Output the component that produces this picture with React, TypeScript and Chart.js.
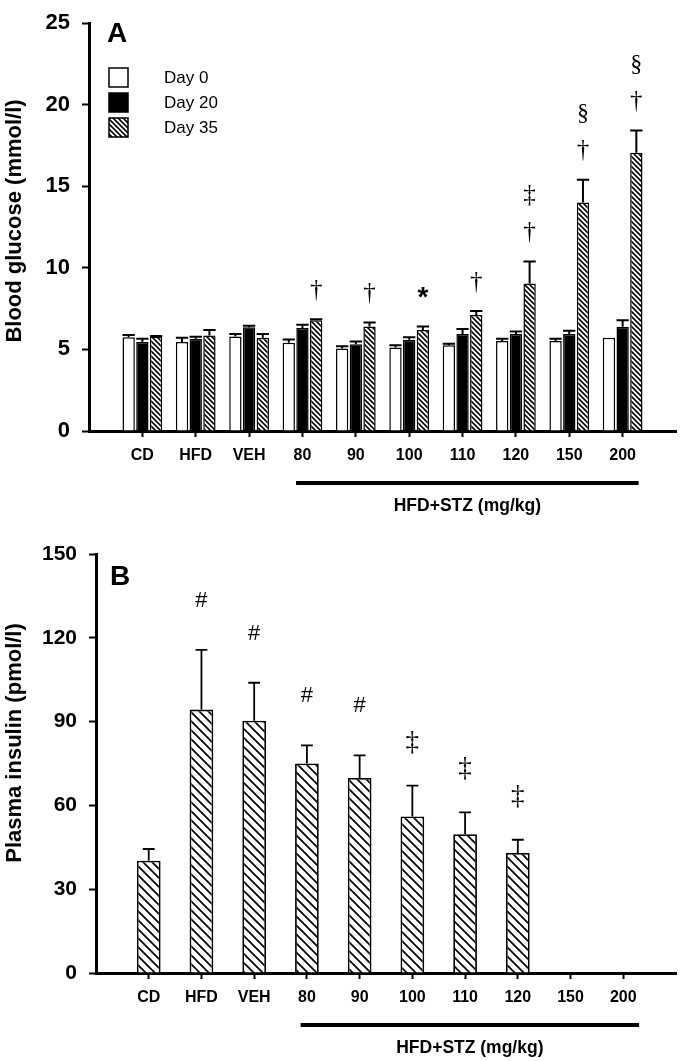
import React, { useEffect, useRef } from 'react';
import { Chart, registerables } from 'chart.js';
Chart.register(...registerables);

const categories = ['CD', 'HFD', 'VEH', '80', '90', '100', '110', '120', '150', '200'];
const seriesNames = ['Day 0', 'Day 20', 'Day 35'];

const glucoseDay0 = [5.75, 5.45, 5.79, 5.40, 5.05, 5.11, 5.25, 5.51, 5.51, 5.71];
const glucoseDay0Err = [0.14, 0.26, 0.16, 0.21, 0.14, 0.14, 0.10, 0.14, 0.14, 0];
const glucoseDay20 = [5.45, 5.65, 6.35, 6.31, 5.31, 5.59, 5.95, 5.95, 5.95, 6.39];
const glucoseDay20Err = [0.20, 0.13, 0.10, 0.20, 0.18, 0.16, 0.30, 0.14, 0.20, 0.40];
const glucoseDay35 = [5.79, 5.85, 5.71, 6.79, 6.41, 6.19, 7.11, 9.04, 14.0, 17.05];
const glucoseDay35Err = [0.03, 0.34, 0.24, 0.06, 0.24, 0.22, 0.24, 1.34, 1.40, 1.37];
const glucoseMarks = [[], [], [], ['†'], ['†'], ['*'], ['†'], ['†', '‡'], ['†', '§'], ['†', '§']];

const insulinMean = [40.2, 94.3, 90.3, 75.0, 69.8, 56.0, 49.7, 43.0, null, null];
const insulinErr = [4.2, 21.4, 13.6, 6.5, 8.1, 11.1, 7.8, 4.7, null, null];
const insulinMarks = [[], ['#'], ['#'], ['#'], ['#'], ['‡'], ['‡'], ['‡'], [], []];

const glucoseTicks = { min: 0, max: 25, step: 5 };
const insulinTicks = { min: 0, max: 150, step: 30 };

const SANS = '"Liberation Sans", Arial, sans-serif';
const SERIF = '"Liberation Serif", "Times New Roman", serif';

Chart.defaults.font.family = SANS;

function pad<T>(arr: T[]): (T | null)[] {
  return [null, ...arr, null];
}

const xLabels = ['', ...categories, ''];

function makeHatch(target: CanvasRenderingContext2D, size: number, lw: number) {
  const c = document.createElement('canvas');
  c.width = size;
  c.height = size;
  const g = c.getContext('2d')!;
  g.fillStyle = '#fff';
  g.fillRect(0, 0, size, size);
  g.strokeStyle = '#000';
  g.lineWidth = lw;
  g.beginPath();
  for (const k of [-size, 0, size]) {
    g.moveTo(-1, k - 1);
    g.lineTo(size + 1, k + size + 1);
  }
  g.stroke();
  return target.createPattern(c, 'repeat')!;
}

function errPlugin(errs: (number | null)[][], capFrac: number, lw: number) {
  return {
    id: 'errbars',
    afterDatasetsDraw(chart: any) {
      const ctx = chart.ctx;
      const ys = chart.scales.y;
      chart.data.datasets.forEach((ds: any, di: number) => {
        const meta = chart.getDatasetMeta(di);
        meta.data.forEach((el: any, i: number) => {
          const v = ds.data[i];
          const e = errs[di][i];
          if (v == null || e == null || e <= 0) return;
          const yt = ys.getPixelForValue(v + e);
          const w = el.width * capFrac;
          ctx.save();
          ctx.strokeStyle = '#000';
          ctx.lineWidth = lw;
          ctx.beginPath();
          ctx.moveTo(el.x, el.y);
          ctx.lineTo(el.x, yt);
          ctx.moveTo(el.x - w / 2, yt);
          ctx.lineTo(el.x + w / 2, yt);
          ctx.stroke();
          ctx.restore();
        });
      });
    },
  };
}

function marksPlugin(
  di: number,
  errs: (number | null)[],
  marks: string[][],
  symStyle: Record<string, { font: string; off: number }>,
  step: number
) {
  return {
    id: 'marks',
    afterDatasetsDraw(chart: any) {
      const ctx = chart.ctx;
      const ys = chart.scales.y;
      const ds = chart.data.datasets[di];
      const meta = chart.getDatasetMeta(di);
      meta.data.forEach((el: any, i: number) => {
        const m = marks[i];
        const v = ds.data[i];
        if (!m || !m.length || v == null) return;
        const e = errs[i] || 0;
        const yt = ys.getPixelForValue(v + e);
        ctx.save();
        ctx.fillStyle = '#000';
        ctx.textAlign = 'center';
        ctx.textBaseline = 'middle';
        const first = symStyle[m[0]].off;
        m.forEach((s, k) => {
          ctx.font = symStyle[s].font;
          ctx.fillText(s, el.x, yt - first - k * step);
        });
        ctx.restore();
      });
    },
  };
}

function decorPlugin(opts: {
  panel: string;
  panelPos: [number, number];
  yTitle: string;
  yTitlePos: [number, number];
  legend?: { fills: any[] };
}) {
  return {
    id: 'decor',
    afterDraw(chart: any) {
      const ctx = chart.ctx;
      const xs = chart.scales.x;
      const area = chart.chartArea;
      ctx.save();
      ctx.fillStyle = '#000';
      // panel label
      ctx.font = 'bold 28px ' + SANS;
      ctx.textAlign = 'left';
      ctx.textBaseline = 'alphabetic';
      ctx.fillText(opts.panel, opts.panelPos[0], opts.panelPos[1]);
      // y title
      ctx.save();
      ctx.translate(opts.yTitlePos[0], opts.yTitlePos[1]);
      ctx.rotate(-Math.PI / 2);
      ctx.font = 'bold 22px ' + SANS;
      ctx.textAlign = 'center';
      ctx.textBaseline = 'middle';
      ctx.fillText(opts.yTitle, 0, 0);
      ctx.restore();
      // group line
      const sp = xs.getPixelForValue(2) - xs.getPixelForValue(1);
      const x0 = xs.getPixelForValue(xLabels.indexOf('80')) - 0.12 * sp;
      const x1 = xs.getPixelForValue(xLabels.indexOf('200')) + 0.3 * sp;
      ctx.strokeStyle = '#000';
      ctx.lineWidth = 4;
      ctx.beginPath();
      ctx.moveTo(x0, area.bottom + 52);
      ctx.lineTo(x1, area.bottom + 52);
      ctx.stroke();
      ctx.font = 'bold 17.5px ' + SANS;
      ctx.textAlign = 'center';
      ctx.textBaseline = 'middle';
      ctx.fillText('HFD+STZ (mg/kg)', (x0 + x1) / 2, area.bottom + 75);
      // legend
      if (opts.legend) {
        opts.legend.fills.forEach((f, i) => {
          const bx = 109;
          const by = 68 + i * 25;
          ctx.fillStyle = f;
          ctx.fillRect(bx, by, 19, 19);
          ctx.strokeStyle = '#000';
          ctx.lineWidth = 1.5;
          ctx.strokeRect(bx, by, 19, 19);
          ctx.fillStyle = '#000';
          ctx.font = '17px ' + SANS;
          ctx.textAlign = 'left';
          ctx.textBaseline = 'middle';
          ctx.fillText(seriesNames[i], 164, by + 10);
        });
      }
      ctx.restore();
    },
  };
}

function xScale(height: number) {
  return {
    type: 'category' as const,
    offset: false,
    grid: {
      display: true,
      drawOnChartArea: false,
      drawTicks: true,
      offset: false,
      tickLength: 6,
      tickWidth: 2,
      tickColor: (c: any) => (c.tick && c.tick.label ? '#000' : 'rgba(0,0,0,0)'),
    },
    border: { display: true, color: '#000', width: 3 },
    ticks: {
      color: '#000',
      font: { size: 16, weight: 'bold' as const, lineHeight: 1.2 },
      padding: 9,
      autoSkip: false,
      maxRotation: 0,
    },
    afterFit: (s: any) => {
      s.height = height;
    },
  };
}

function yScale(t: { min: number; max: number; step: number }, width: number, fontSize: number) {
  return {
    min: t.min,
    max: t.max,
    grid: { display: true, drawOnChartArea: false, tickLength: 7, tickWidth: 2, tickColor: '#000' },
    border: { display: true, color: '#000', width: 3 },
    ticks: {
      stepSize: t.step,
      color: '#000',
      font: { size: fontSize, weight: 'bold' as const, lineHeight: 1 },
      padding: 12,
    },
    afterFit: (s: any) => {
      s.width = width;
    },
  };
}

export default function App() {
  const topRef = useRef<HTMLCanvasElement>(null);
  const botRef = useRef<HTMLCanvasElement>(null);

  useEffect(() => {
    document.body.style.margin = '0';
    const c1 = topRef.current!;
    const c2 = botRef.current!;
    const ctx1 = c1.getContext('2d')!;
    const ctx2 = c2.getContext('2d')!;
    const hatchTop = makeHatch(ctx1, 5, 1.6);
    const hatchBot = makeHatch(ctx2, 9, 1.7);

    const chart1 = new Chart(c1, {
      type: 'bar',
      data: {
        labels: xLabels,
        datasets: [
          { label: seriesNames[0], data: pad(glucoseDay0), backgroundColor: '#fff', borderColor: '#000', borderWidth: 1.5 },
          { label: seriesNames[1], data: pad(glucoseDay20), backgroundColor: '#000', borderColor: '#000', borderWidth: 1.5 },
          { label: seriesNames[2], data: pad(glucoseDay35), backgroundColor: hatchTop, borderColor: '#000', borderWidth: 1.5 },
        ],
      },
      options: {
        animation: false,
        responsive: false,
        datasets: { bar: { categoryPercentage: 0.77, barPercentage: 0.9 } },
        layout: { padding: { top: 12, right: 8, left: 0, bottom: 0 } },
        plugins: { legend: { display: false }, tooltip: { enabled: false } },
        scales: {
          x: xScale(99),
          y: yScale(glucoseTicks, 89, 22),
        },
      } as any,
      plugins: [
        errPlugin([pad(glucoseDay0Err), pad(glucoseDay20Err), pad(glucoseDay35Err)], 1, 2),
        marksPlugin(
          2,
          pad(glucoseDay35Err),
          pad(glucoseMarks) as any,
          {
            '†': { font: '25px ' + SERIF, off: 29 },
            '‡': { font: '25px ' + SERIF, off: 29 },
            '§': { font: '24px ' + SERIF, off: 29 },
            '*': { font: 'bold 28px ' + SANS, off: 28 },
          },
          37
        ),
        decorPlugin({
          panel: 'A',
          panelPos: [107, 42],
          yTitle: 'Blood glucose (mmol/l)',
          yTitlePos: [15, 221],
          legend: { fills: ['#fff', '#000', hatchTop] },
        }),
      ],
    });

    const chart2 = new Chart(c2, {
      type: 'bar',
      data: {
        labels: xLabels,
        datasets: [
          { label: 'Insulin', data: pad(insulinMean), backgroundColor: hatchBot, borderColor: '#000', borderWidth: 1.8 },
        ],
      },
      options: {
        animation: false,
        responsive: false,
        datasets: { bar: { categoryPercentage: 0.5, barPercentage: 0.9 } },
        layout: { padding: { top: 24, right: 4, left: 0, bottom: 0 } },
        plugins: { legend: { display: false }, tooltip: { enabled: false } },
        scales: {
          x: xScale(88),
          y: yScale(insulinTicks, 96, 21),
        },
      } as any,
      plugins: [
        errPlugin([pad(insulinErr)], 0.5, 1.8),
        marksPlugin(
          0,
          pad(insulinErr),
          pad(insulinMarks) as any,
          {
            '#': { font: '22px ' + SANS, off: 49 },
            '‡': { font: '27px ' + SERIF, off: 43 },
          },
          37
        ),
        decorPlugin({
          panel: 'B',
          panelPos: [110, 55],
          yTitle: 'Plasma insulin (pmol/l)',
          yTitlePos: [15, 213],
        }),
      ],
    });

    return () => {
      chart1.destroy();
      chart2.destroy();
    };
  }, []);

  return (
    <div style={{ position: 'relative', width: 685, height: 1061, background: '#fff' }}>
      <canvas ref={topRef} width={685} height={530} style={{ position: 'absolute', left: 0, top: 0, width: 685, height: 530 }} />
      <canvas ref={botRef} width={685} height={531} style={{ position: 'absolute', left: 0, top: 530, width: 685, height: 531 }} />
    </div>
  );
}
